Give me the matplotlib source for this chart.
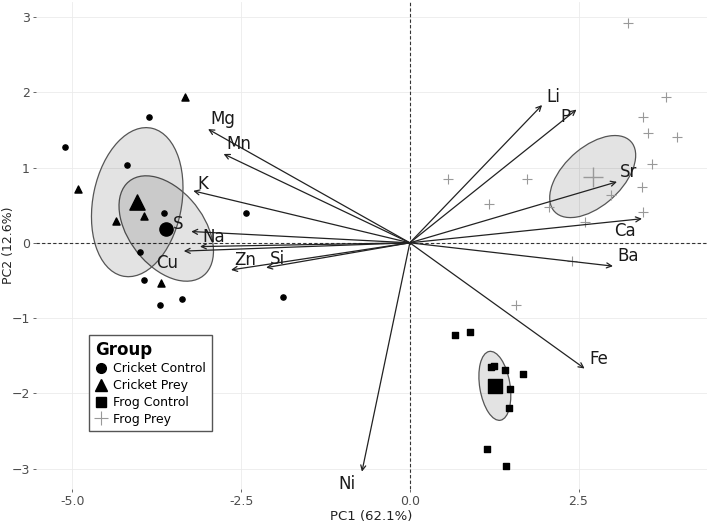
import numpy as np
import matplotlib.pyplot as plt
from matplotlib.patches import Ellipse
from matplotlib.lines import Line2D

# scores
cc_x = [-5.11, -3.87, -4.19, -3.64, -2.43, -4.00, -3.94, -3.38, -3.70, -1.88]
cc_y = [1.27, 1.67, 1.04, 0.40, 0.40, -0.12, -0.49, -0.74, -0.82, -0.72]
cp_x = [-3.33, -4.92, -4.36, -3.94, -3.69]
cp_y = [1.94, 0.72, 0.29, 0.35, -0.54]
fc_x = [0.67, 0.89, 1.20, 1.24, 1.41, 1.67, 1.48, 1.47, 1.15, 1.42]
fc_y = [-1.23, -1.18, -1.65, -1.63, -1.69, -1.74, -1.94, -2.20, -2.74, -2.96]
fp_x = [3.23, 3.79, 3.45, 3.53, 3.96, 3.59, 3.44, 2.98, 3.45, 2.59, 2.06, 1.73, 1.17, 0.56, 2.40, 1.57]
fp_y = [2.92, 1.94, 1.67, 1.46, 1.41, 1.05, 0.74, 0.64, 0.41, 0.28, 0.48, 0.85, 0.52, 0.85, -0.24, -0.82]

# group centroids
cen_x = [-3.61, -4.04, 1.26, 2.71]
cen_y = [0.19, 0.54, -1.90, 0.88]
# ellipse covariance terms (sxx, syy, sxy)
ell_sxx = [0.49, 0.46, 0.056, 0.406]
ell_syy = [0.49, 0.98, 0.21, 0.297]
ell_sxy = [-0.21, 0.13, -0.03, 0.18]

# loadings
var_names = ["Mg", "Mn", "K", "S", "Na", "Cu", "Zn", "Si", "Li", "P", "Sr", "Ca", "Ba", "Fe", "Ni"]
load_x = [-2.99, -2.76, -3.21, -3.24, -3.11, -3.35, -2.65, -2.13, 1.96, 2.47, 3.07, 3.44, 3.01, 2.59, -0.71]
load_y = [1.51, 1.18, 0.69, 0.15, -0.05, -0.11, -0.36, -0.33, 1.83, 1.77, 0.81, 0.32, -0.31, -1.67, -3.04]
lab_x = [-2.77, -2.53, -3.07, -3.44, -2.90, -3.59, -2.44, -1.96, 2.12, 2.30, 3.24, 3.19, 3.24, 2.80, -0.93]
lab_y = [1.65, 1.31, 0.78, 0.25, 0.08, -0.27, -0.23, -0.21, 1.94, 1.67, 0.94, 0.16, -0.17, -1.54, -3.21]

fig = plt.figure(figsize=(7.09, 5.30), dpi=100)
ax = fig.add_axes([0.0508, 0.0774, 0.946, 0.919])

ax.grid(True, color="#ebebeb", lw=0.6)
ax.set_axisbelow(True)
for s in ax.spines.values():
    s.set_visible(False)

ax.axhline(0, color="#333333", ls=(0, (3, 2)), lw=0.8, zorder=1)
ax.axvline(0, color="#333333", ls=(0, (3, 2)), lw=0.8, zorder=1)

for i in range(4):
    cov = np.array([[ell_sxx[i], ell_sxy[i]], [ell_sxy[i], ell_syy[i]]])
    vals, vecs = np.linalg.eigh(cov)
    ang = np.degrees(np.arctan2(vecs[1, 1], vecs[0, 1]))
    e = Ellipse((cen_x[i], cen_y[i]), 2 * np.sqrt(vals[1]), 2 * np.sqrt(vals[0]), angle=ang,
                facecolor=(0, 0, 0, 0.11), edgecolor="#555555", lw=0.9, zorder=2)
    ax.add_patch(e)

ax.scatter(cc_x, cc_y, marker="o", s=14, color="black", zorder=3)
ax.scatter(cp_x, cp_y, marker="^", s=26, color="black", zorder=3)
ax.scatter(fc_x, fc_y, marker="s", s=20, color="black", zorder=3)
ax.scatter(fp_x, fp_y, marker="+", s=55, color="#999999", lw=0.8, zorder=3)

ax.scatter(cen_x[0], cen_y[0], marker="o", s=90, color="black", zorder=4)
ax.scatter(cen_x[1], cen_y[1], marker="^", s=120, color="black", zorder=4)
ax.scatter(cen_x[2], cen_y[2], marker="s", s=90, color="black", zorder=4)
ax.scatter(cen_x[3], cen_y[3], marker="+", s=200, color="#999999", lw=1.0, zorder=4)

for i, name in enumerate(var_names):
    ax.annotate("", xy=(load_x[i], load_y[i]), xytext=(0, 0),
                arrowprops=dict(arrowstyle="->", color="#222222", lw=0.9,
                                shrinkA=0, shrinkB=0, mutation_scale=9), zorder=5)
    ax.text(lab_x[i], lab_y[i], name, fontsize=12, color="#1a1a1a",
            ha="center", va="center", zorder=6)

ax.set_xlim(-5.54, 4.40)
ax.set_ylim(-3.27, 3.2)
ax.set_xticks([-5, -2.5, 0, 2.5])
ax.set_xticklabels(["-5.0", "-2.5", "0.0", "2.5"])
ax.set_yticks([-3, -2, -1, 0, 1, 2, 3])
ax.tick_params(colors="#4d4d4d", labelsize=9, length=2.5, width=0.6, pad=2)
ax.set_xlabel("PC1 (62.1%)", fontsize=9.5, color="#222222", labelpad=1)
ax.set_ylabel("PC2 (12.6%)", fontsize=9, color="#222222")
ax.yaxis.set_label_coords(-0.031, 0.5)

handles = [
    Line2D([], [], ls="", marker="o", color="black", ms=7),
    Line2D([], [], ls="", marker="^", color="black", ms=8),
    Line2D([], [], ls="", marker="s", color="black", ms=7),
    Line2D([], [], ls="", marker="+", color="#999999", ms=10, mew=0.8),
]
leg = ax.legend(handles, ["Cricket Control", "Cricket Prey", "Frog Control", "Frog Prey"],
                title="Group", loc="upper left", bbox_to_anchor=(0.079, 0.316),
                borderaxespad=0, fontsize=9, title_fontsize=12, fancybox=False,
                framealpha=1, edgecolor="#555555", handlelength=1.0,
                handletextpad=0.5, labelspacing=0.3, borderpad=0.45)
leg.get_title().set_fontweight("bold")
leg._legend_box.align = "left"

fig.savefig("out.png", dpi=100)
